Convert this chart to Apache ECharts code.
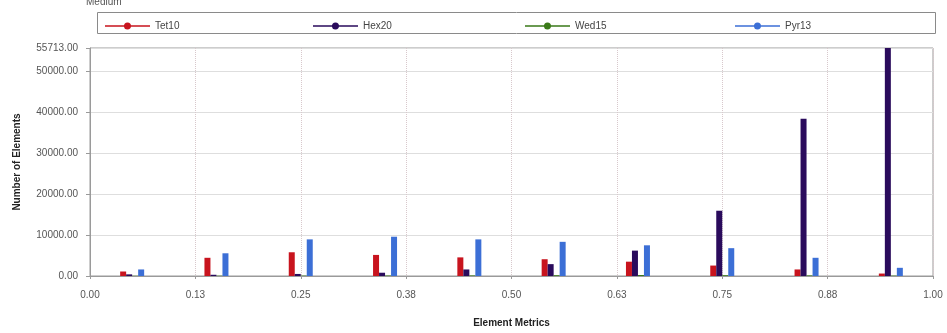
<!DOCTYPE html>
<html>
<head>
<meta charset="utf-8">
<script src="https://cdn.jsdelivr.net/npm/echarts@6/dist/echarts.min.js"></script>
<style>
html,body{margin:0;padding:0;background:#fff;}
#chart{width:947px;height:333px;}
</style>
</head>
<body>
<div id="chart"></div>
<script>
// Bin categories (centres of 0.1-wide bins on the 0..1 metric scale)
const categories = ['0.05','0.15','0.25','0.35','0.45','0.55','0.65','0.75','0.85','0.95'];
const tet10 = [1100, 4450, 5800, 5150, 4550, 4100, 3500, 2550, 1600, 600];
const hex20 = [400, 300, 500, 800, 1600, 2900, 6200, 15950, 38400, 55713];
const wed15 = [60, 80, 100, 120, 150, 200, 250, 200, 150, 100];
const pyr13 = [1600, 5550, 8950, 9600, 8950, 8350, 7500, 6800, 4450, 2000];
const seriesNames = ['Tet10', 'Hex20', 'Wed15', 'Pyr13'];
const seriesColors = ['#c8141e', '#2a0b5c', '#3a7a18', '#3c6fd6'];
const yMax = 55713;
const yTickStep = 10000;
const xTickStep = 0.125;

const chart = echarts.init(document.getElementById('chart'));
const font = 'Liberation Sans, Arial, sans-serif';
const data = [tet10, hex20, wed15, pyr13];
const legendIcon = 'path://M0,3.2 L45,3.2 L45,4.8 L0,4.8 Z M22.5,0.5 A3.5,3.5 0 1,1 22.49,0.5 Z';
const legendLefts = [100, 308, 520, 730];

const option = {
  animation: false,
  backgroundColor: '#ffffff',
  grid: { left: 90, right: 14, top: 48, bottom: 57, show: true, borderColor: '#9a9a9a', borderWidth: 1 },
  legend: seriesNames.map((n, i) => ({
    data: [{ name: n, icon: legendIcon }],
    left: legendLefts[i], top: 16,
    itemWidth: 45, itemHeight: 8, itemGap: 4,
    textStyle: { fontFamily: font, fontSize: 10, color: '#444' }
  })),
  graphic: [
    { type: 'rect', left: 95, top: 10, shape: { width: 838, height: 21 },
      style: { fill: 'none', stroke: '#8a8a8a', lineWidth: 1 }, z: -1 },
    { type: 'text', left: 86, top: -3, style: { text: 'Medium', font: '10px Liberation Sans', fill: '#555' } }
  ],
  xAxis: [
    { type: 'category', data: categories, show: false, boundaryGap: true, gridIndex: 0 },
    { type: 'value', min: 0, max: 1, interval: xTickStep, position: 'bottom', gridIndex: 0,
      axisLine: { show: true, lineStyle: { color: '#9a9a9a' } },
      axisTick: { show: true, length: 3, lineStyle: { color: '#9a9a9a' } },
      axisLabel: { formatter: v => v.toFixed(2), fontFamily: font, fontSize: 10, color: '#555', margin: 14 },
      splitLine: { show: true, lineStyle: { color: '#d8c8cc', type: 'dotted', width: 1 } },
      name: 'Element Metrics', nameLocation: 'middle', nameGap: 42,
      nameTextStyle: { fontFamily: font, fontSize: 10, fontWeight: 'bold', color: '#222' }
    }
  ],
  yAxis: {
    type: 'value', min: 0, max: yMax, interval: yTickStep,
    axisLine: { show: true, lineStyle: { color: '#9a9a9a' } },
    axisTick: { show: true, length: 4, lineStyle: { color: '#9a9a9a' } },
    axisLabel: { formatter: v => v.toFixed(2), fontFamily: font, fontSize: 10, color: '#555', margin: 12, showMaxLabel: true },
    splitLine: { show: true, lineStyle: { color: '#dedede', width: 1 } },
    name: 'Number of Elements', nameLocation: 'middle', nameGap: 68, nameRotate: 90,
    nameTextStyle: { fontFamily: font, fontSize: 10, fontWeight: 'bold', color: '#222' }
  },
  series: seriesNames.map((n, i) => ({
    name: n, type: 'bar', xAxisIndex: 0, data: data[i],
    barWidth: 6, barGap: '0%',
    itemStyle: { color: seriesColors[i] }
  }))
};
chart.setOption(option);
</script>
</body>
</html>
